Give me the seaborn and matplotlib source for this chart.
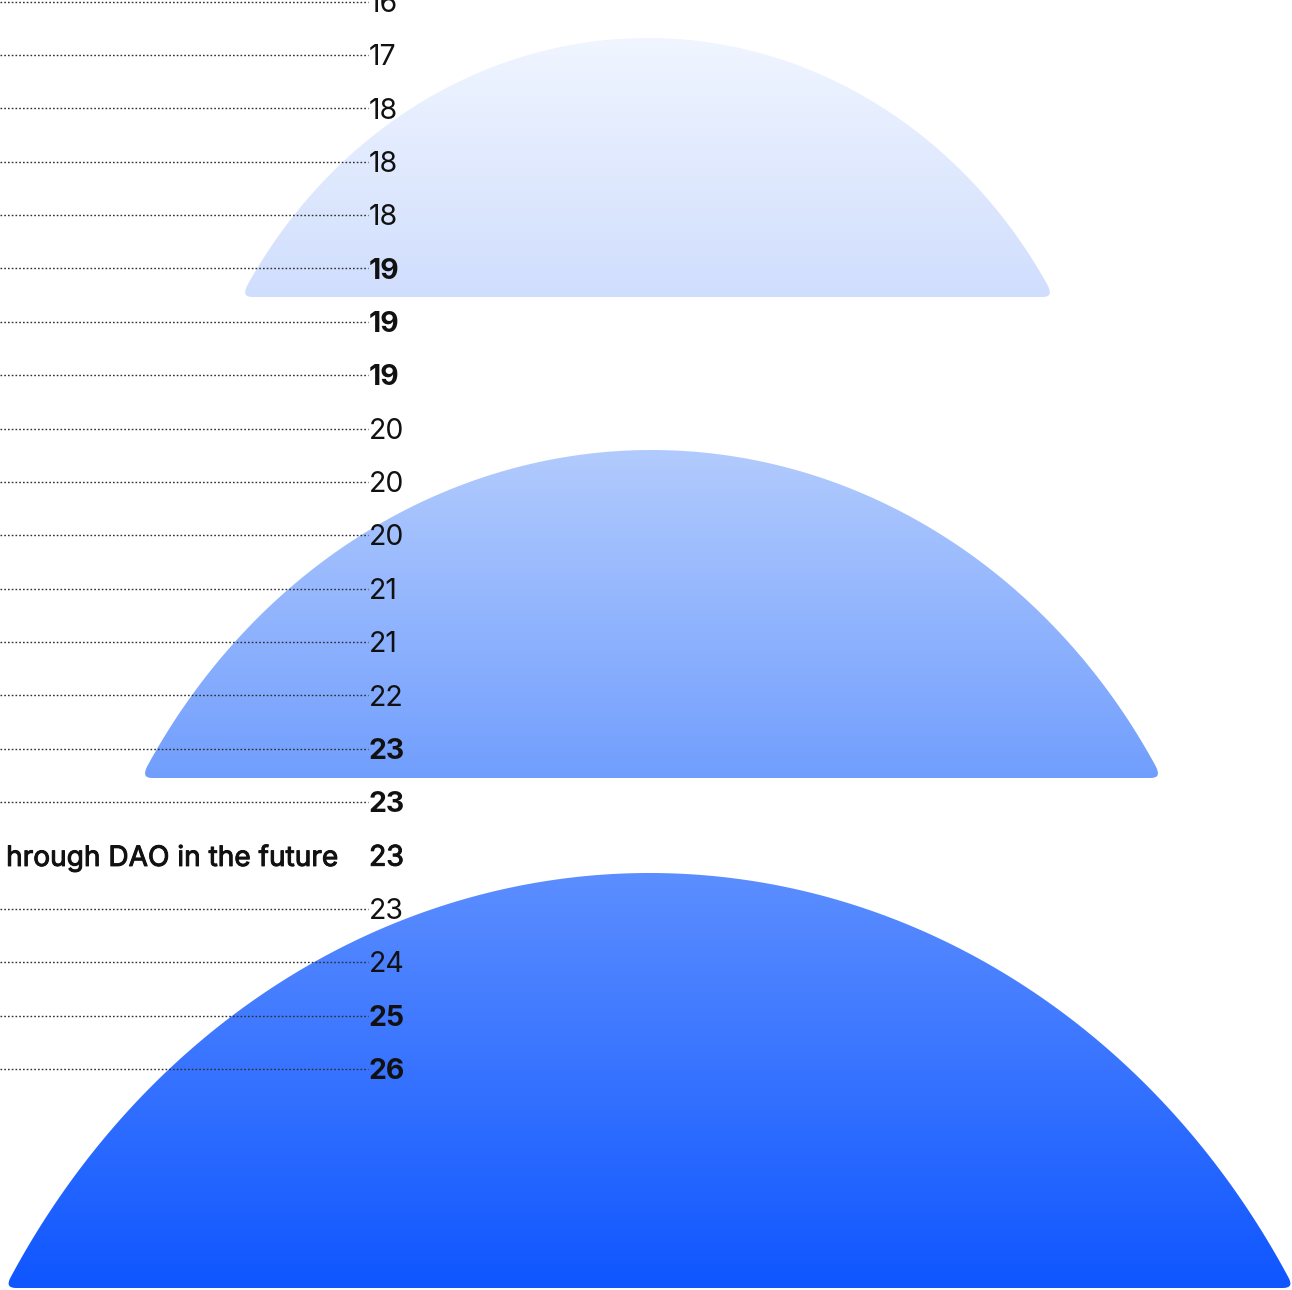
import numpy as np
import pandas as pd
import matplotlib
matplotlib.use("Agg")
import matplotlib.pyplot as plt
import matplotlib.patheffects as pe
import seaborn as sns
from matplotlib.path import Path
from matplotlib.patches import PathPatch
from matplotlib.colors import LinearSegmentedColormap

# ---------------- data ----------------
values = [16, 17, 18, 18, 18, 19, 19, 19, 20, 20, 20, 21, 21, 22, 23, 23, 23, 23, 24, 25, 26]
weights = ["normal"] * 5 + ["bold"] * 3 + ["normal"] * 6 + ["bold"] * 2 + ["medium"] + \
          ["normal"] * 2 + ["bold"] * 2
labels = [""] * 16 + ["hrough DAO in the future"] + [""] * 4

# dome decorations (pixel geometry): left, right, top, base, top colour, bottom colour
dome_left = [241, 141, 5]
dome_right = [1054, 1162, 1294]
dome_top = [38, 450, 873]
dome_base = [297, 778, 1288]
dome_c_top = ["#F0F5FF", "#B2CBFE", "#5C8EFF"]
dome_c_bot = ["#D0DEFD", "#719EFD", "#0F56FF"]

W, H = 1292, 1290
ROW0, ROWH = 1.6, 53.37   # pixel y of row 0 and row pitch

sns.set_theme(style="white")
plt.rcParams["font.family"] = ["Inter", "DejaVu Sans"]

fig = plt.figure(figsize=(W / 100, H / 100), dpi=100)
ax = fig.add_axes([0, 0, 1, 1])


def set_frame():
    ax.set_xlim(0, W)
    ax.set_ylim((H - ROW0) / ROWH, (0 - ROW0) / ROWH)
    ax.axis("off")


set_frame()


def to_row(py):
    return (np.asarray(py, dtype=float) - ROW0) / ROWH


def dome_path(l, r, t, b, rad=11, th0=np.radians(60)):
    cx = (l + r) / 2
    a = (r - l) / 2
    h = b - t
    th = np.linspace(-th0, th0, 300)
    xs = cx + a * np.sin(th) / np.sin(th0)
    ys = b - h * (np.cos(th) - np.cos(th0)) / (1 - np.cos(th0))
    pts = np.column_stack([xs, ys])
    d_left = np.hypot(xs - l, ys - b)
    d_right = np.hypot(xs - r, ys - b)
    keep = (d_left > rad) & (d_right > rad)
    arc = pts[keep]
    verts = [(l + rad, b)]
    codes = [Path.MOVETO]
    verts += [(l, b), tuple(arc[0])]
    codes += [Path.CURVE3, Path.CURVE3]
    for p in arc[1:]:
        verts.append(tuple(p))
        codes.append(Path.LINETO)
    verts += [(r, b), (r - rad, b)]
    codes += [Path.CURVE3, Path.CURVE3]
    verts.append((l + rad, b))
    codes.append(Path.CLOSEPOLY)
    verts = np.array(verts)
    verts[:, 1] = to_row(verts[:, 1])
    return Path(verts, codes)


for i in range(len(dome_left)):
    path = dome_path(dome_left[i], dome_right[i], dome_top[i], dome_base[i])
    patch = PathPatch(path, facecolor="none", edgecolor="none")
    ax.add_patch(patch)
    cmap = LinearSegmentedColormap.from_list("g%d" % i, [dome_c_top[i], dome_c_bot[i]])
    grad = np.linspace(0, 1, 256).reshape(-1, 1) * np.ones((1, 8))
    im = ax.imshow(grad, cmap=cmap, aspect="auto", interpolation="bilinear",
                   extent=[dome_left[i], dome_right[i], to_row(dome_base[i]), to_row(dome_top[i])],
                   zorder=1)
    im.set_clip_path(patch)

set_frame()

# leader lines for rows whose label lies outside the frame
rows = [i for i, lab in enumerate(labels) if lab == ""]
lead = pd.DataFrame({
    "x": [0, 368] * len(rows),
    "row": np.repeat(rows, 2),
})
sns.lineplot(data=lead, x="x", y="row", units="row", estimator=None, ax=ax,
             color="#2e2e2e", lw=1.0, linestyle=(0, (1.2, 1.5)), zorder=3, legend=False)
set_frame()

medium = [pe.withStroke(linewidth=0.7, foreground="#111111")]

for i, v in enumerate(values):
    w = weights[i]
    ax.text(369, i + 0.05, str(v), ha="left", va="center", fontsize=20.5,
            fontweight="normal" if w == "medium" else w, color="#111111", zorder=4,
            path_effects=medium if w == "medium" else None)
    if labels[i]:
        ax.text(337, i + 0.05, labels[i], ha="right", va="center", fontsize=20.2,
                fontweight="normal", color="#111111", zorder=4, path_effects=medium)

fig.savefig("out.png", dpi=100)
